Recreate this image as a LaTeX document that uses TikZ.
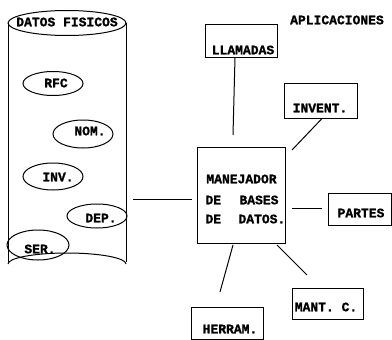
\documentclass[tikz,border=0pt]{standalone}
\usepackage{fontspec}
\newfontfamily\lblfont{Liberation Mono Bold}[FakeBold=1.2]
\begin{document}
\begin{tikzpicture}[x=1pt,y=-1pt,
  every path/.style={line width=1pt},
  lbl/.style={font=\lblfont\fontsize{13}{14}\selectfont, inner sep=0pt},
  appbox/.style={draw, rectangle, inner sep=0pt},
  datum/.style={draw, ellipse, inner sep=0pt}]
\useasboundingbox (0,0) rectangle (392,340);

% Physical data store (cylinder)
\draw (67,23) ellipse [x radius=59, y radius=12.5];
\draw (8,23) -- (8,262);
\draw (126,23) -- (126,262);
\draw (8,264) arc [start angle=180, end angle=360, x radius=59, y radius=11];
\node[lbl] (fis) at (67,22) {DATOS FISICOS};

% Data files inside the store
\draw (53,83.5) ellipse [x radius=30, y radius=12];
\node[lbl] (rfc) at (56,83) {RFC};
\draw (83,134) ellipse [x radius=30, y radius=14];
\node[lbl] (nom) at (90,131) {NOM.};
\draw (53,176.5) ellipse [x radius=30, y radius=13.5];
\node[lbl] (inv) at (58,177) {INV.};
\draw (97,216) ellipse [x radius=30, y radius=12];
\node[lbl] (dep) at (101,218) {DEP.};
\draw (38,245) ellipse [x radius=31, y radius=15];
\node[lbl] (ser) at (40,249) {SER.};

% Database manager
\node[appbox, minimum width=88, minimum height=96] (dbm) at (241,195) {};
\node[lbl] (dbm1) at (241.5,179) {MANEJADOR};
\node[lbl, anchor=west] (dbm2a) at (205,200) {DE};
\node[lbl, anchor=west] (dbm2b) at (239,200) {BASES};
\node[lbl, anchor=west] (dbm3a) at (205,219) {DE};
\node[lbl, anchor=west] (dbm3b) at (238,219) {DATOS.};

% Applications
\node[lbl] (apl) at (337,20) {APLICACIONES};

\node[appbox, minimum width=72, minimum height=33] (llam) at (241,40.5) {};
\node[lbl] (llamt) at (243,50) {LLAMADAS};

\node[appbox, minimum width=73, minimum height=35] (invt) at (320.5,100.5) {};
\node[lbl] (invtt) at (320,108) {INVENT.};

\node[appbox, minimum width=63, minimum height=32] (part) at (359.5,209) {};
\node[lbl] (partt) at (361,213) {PARTES};

\node[appbox, minimum width=71, minimum height=31] (mant) at (327.5,303.5) {};
\node[lbl] (mantt) at (326,307) {MANT. C.};

\node[appbox, minimum width=72, minimum height=32] (herr) at (227,323) {};
\node[lbl] (herrt) at (230,329) {HERRAM.};

% Connector end points
\coordinate (c-cyl) at (133,199);
\coordinate (c-dbm) at (192,199);
\coordinate (c-llam) at (233,135);
\coordinate (c-inv) at (292,150);
\coordinate (c-part1) at (292,208);
\coordinate (c-part2) at (322,208);
\coordinate (c-mant1) at (277,245);
\coordinate (c-mant2) at (307,275);
\coordinate (c-herr1) at (233,245);
\coordinate (c-herr2) at (220,292);

% Connectors
\draw (c-cyl) -- (c-dbm);
\draw (llam.south -| 235,0) -- (c-llam);
\draw (invt.south -| 322,0) -- (c-inv);
\draw (c-part1) -- (c-part2);
\draw (c-mant1) -- (c-mant2);
\draw (c-herr1) -- (c-herr2);
\end{tikzpicture}
\end{document}
